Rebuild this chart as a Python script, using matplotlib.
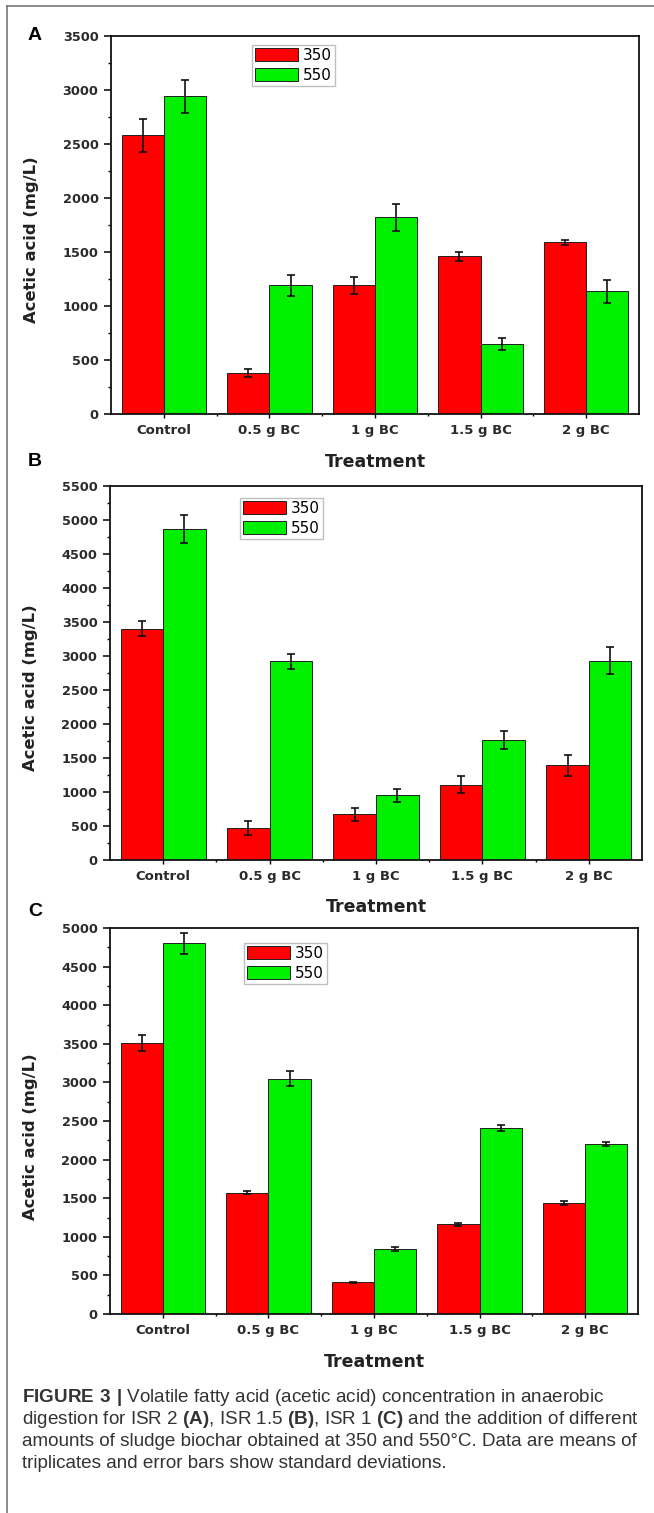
import matplotlib
matplotlib.use("Agg")
import matplotlib.pyplot as plt
import numpy as np
from matplotlib.ticker import MultipleLocator, FixedLocator

W, H = 654, 1513

categories = ["Control", "0.5 g BC", "1 g BC", "1.5 g BC", "2 g BC"]
series_names = ["350", "550"]

# panel A (ISR 2)
a_350 = [2580, 380, 1190, 1460, 1590]
a_350_err = [150, 35, 75, 40, 25]
a_550 = [2940, 1190, 1820, 650, 1135]
a_550_err = [155, 95, 125, 55, 110]

# panel B (ISR 1.5)
b_350 = [3400, 470, 670, 1110, 1390]
b_350_err = [110, 100, 100, 130, 155]
b_550 = [4870, 2920, 950, 1760, 2930]
b_550_err = [210, 110, 100, 130, 200]

# panel C (ISR 1)
c_350 = [3510, 1570, 410, 1165, 1440]
c_350_err = [100, 20, 10, 20, 25]
c_550 = [4800, 3050, 845, 2410, 2200]
c_550_err = [135, 95, 25, 35, 25]

RED = "#ff0000"
GREEN = "#00f000"
TICK_COL = "#2a2a2a"

plt.rcParams["mathtext.fontset"] = "custom"
plt.rcParams["mathtext.rm"] = "Liberation Sans"
plt.rcParams["mathtext.bf"] = "Liberation Sans:bold"

fig = plt.figure(figsize=(W / 100, H / 100), dpi=100)


def px_axes(left, right, top, bottom):
    return fig.add_axes([left / W, 1 - bottom / H, (right - left) / W, (bottom - top) / H])


def panel(ax, letter, v350, e350, v550, e550, ymax, letter_y, legend_xy, treat_y):
    x = np.arange(1, len(categories) + 1)
    bw = 0.4
    ax.bar(x - bw / 2, v350, bw, color=RED, edgecolor="#202020", linewidth=0.7,
           label=series_names[0], zorder=2)
    ax.bar(x + bw / 2, v550, bw, color=GREEN, edgecolor="#202020", linewidth=0.7,
           label=series_names[1], zorder=2)
    ax.errorbar(x - bw / 2, v350, yerr=e350, fmt="none", ecolor="#111111",
                elinewidth=1.2, capsize=3.2, capthick=1.2, zorder=3)
    ax.errorbar(x + bw / 2, v550, yerr=e550, fmt="none", ecolor="#111111",
                elinewidth=1.2, capsize=3.2, capthick=1.2, zorder=3)

    ax.set_xlim(0.5, len(categories) + 0.5)
    ax.set_ylim(0, ymax)
    ax.set_xticks(x)
    ax.set_xticklabels(categories)
    ax.xaxis.set_minor_locator(FixedLocator(x[:-1] + 0.5))
    ax.yaxis.set_major_locator(MultipleLocator(500))
    ax.yaxis.set_minor_locator(MultipleLocator(250))
    ax.tick_params(axis="y", which="major", direction="out", length=5, width=1.1,
                   pad=4, labelsize=9.3, labelcolor=TICK_COL)
    ax.tick_params(axis="y", which="minor", direction="out", length=2.5, width=1)
    ax.tick_params(axis="x", which="major", direction="out", length=3, width=1,
                   pad=4.5, labelsize=9.5, labelcolor=TICK_COL)
    ax.tick_params(axis="x", which="minor", direction="out", length=1.5, width=1)
    for lab in ax.get_xticklabels() + ax.get_yticklabels():
        lab.set_fontweight("bold")
    for s in ax.spines.values():
        s.set_linewidth(1.3)
        s.set_color("#111111")

    ax.set_ylabel("Acetic acid (mg/L)", fontsize=11.8, fontweight="bold",
                  color="#222222")
    ax.yaxis.set_label_coords(-0.136, 0.46)

    l, b, w, h = ax.get_position().bounds
    fig.text((l * W + w * W / 2) / W, 1 - treat_y / H, "Treatment", ha="center",
             va="center", fontsize=12.5, fontweight="bold", color="#222222")
    fig.text(35 / W, 1 - letter_y / H, letter, ha="center", va="center",
             fontsize=14, fontweight="bold", family="Liberation Sans")

    lx = (legend_xy[0] - l * W) / (w * W)
    ly = 1 - (legend_xy[1] - (1 - b - h) * H) / (h * H)
    leg = ax.legend(loc="upper left", bbox_to_anchor=(lx, ly), fontsize=11,
                    frameon=True, fancybox=False, edgecolor="#b0b0b0",
                    handlelength=2.8, handleheight=0.92, handletextpad=0.35,
                    labelspacing=0.3, borderpad=0.2, borderaxespad=0)
    leg.get_frame().set_linewidth(1.0)


axA = px_axes(111, 639, 36, 414)
panel(axA, "A", a_350, a_350_err, a_550, a_550_err, 3500, 36, (252, 45), 462)

axB = px_axes(110, 642, 486, 860)
panel(axB, "B", b_350, b_350_err, b_550, b_550_err, 5500, 462, (240, 498), 907)

axC = px_axes(110, 638, 928, 1314)
panel(axC, "C", c_350, c_350_err, c_550, c_550_err, 5000, 912, (244, 943), 1362)

# frame lines
fig.add_artist(plt.Line2D([7 / W, 1], [1 - 6 / H, 1 - 6 / H], color="#777777",
                          linewidth=1.2, transform=fig.transFigure))
fig.add_artist(plt.Line2D([7 / W, 7 / W], [0, 1 - 6 / H], color="#777777",
                          linewidth=1.2, transform=fig.transFigure))

caption = [
    r"$\mathbf{FIGURE\ 3\ |}$ Volatile fatty acid (acetic acid) concentration in anaerobic",
    r"digestion for ISR 2 $\mathbf{(A)}$, ISR 1.5 $\mathbf{(B)}$, ISR 1 $\mathbf{(C)}$ and the addition of different",
    "amounts of sludge biochar obtained at 350 and 550\u00b0C. Data are means of",
    "triplicates and error bars show standard deviations.",
]
cap_y = [1397, 1419, 1442, 1463]
for line, yy in zip(caption, cap_y):
    fig.text(22 / W, 1 - yy / H, line, ha="left", va="center", fontsize=13.6,
             family="Liberation Sans", color="#333333")

fig.savefig("out.png", dpi=100)
